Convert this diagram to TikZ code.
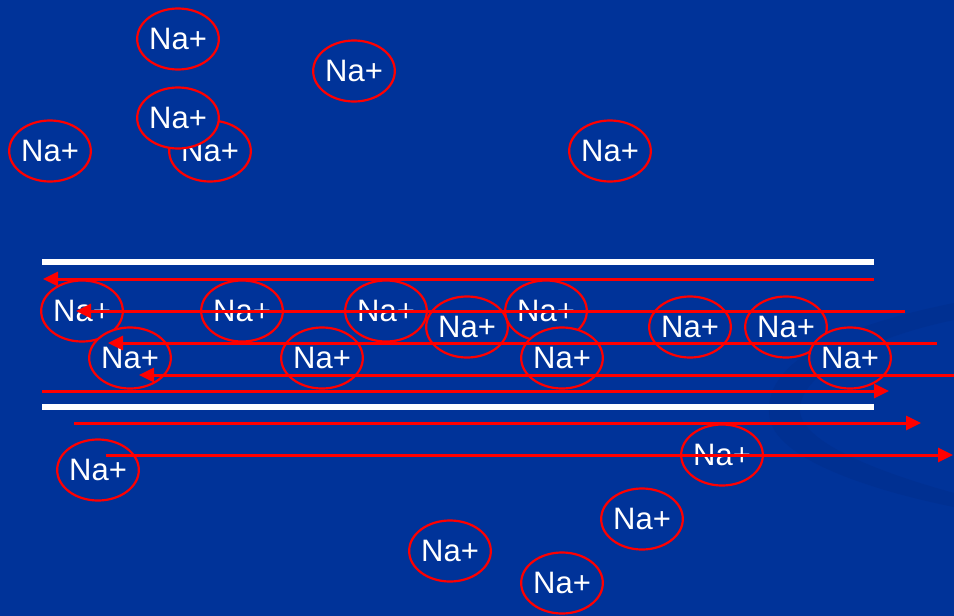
\documentclass[tikz,border=0pt]{standalone}
\usepackage{fontspec}
\setmainfont{Liberation Sans}
\usetikzlibrary{arrows.meta,shapes.geometric}
\definecolor{bg}{RGB}{0,51,153}
\definecolor{swoosh}{RGB}{0,48,146}
\definecolor{ionred}{RGB}{255,0,0}
\begin{document}
\begin{tikzpicture}[x=1pt,y=-1pt,
  ion/.style={ellipse, draw=ionred, line width=2.2pt, fill=bg, minimum width=78pt, minimum height=61pt, inner sep=0pt, text=white, font=\fontsize{31}{31}\selectfont},
  flow/.style={draw=ionred, line width=3pt, -{Triangle[length=15pt,width=14pt]}},
  wall/.style={draw=white, line width=6pt}]
\fill[bg] (0,0) rectangle (954,616);
\useasboundingbox (0,0) rectangle (954,616);
% faint background swoosh
\fill[swoosh] (954,303) .. controls (820,330) and (760,370) .. (770,420) .. controls (780,460) and (870,490) .. (954,507) -- (954,493) .. controls (870,470) and (800,440) .. (800,410) .. controls (800,370) and (880,335) .. (954,320) -- cycle;
% walls
\coordinate (wt1) at (42,262); \coordinate (wt2) at (874,262);
\coordinate (wb1) at (42,407); \coordinate (wb2) at (874,407);
\draw[wall] (wt1) -- (wt2);
\draw[wall] (wb1) -- (wb2);
% ions outside
\node[ion] (o1) at (178,39) {Na+};
\node[ion] (o2) at (354,71) {Na+};
\node[ion] (o4) at (210,151) {Na+};
\node[ion] (o3) at (178,118) {Na+};
\node[ion] (o5) at (50,151) {Na+};
\node[ion] (o6) at (610,151) {Na+};
% ions in the tube
\node[ion] (p1) at (82,311) {Na+};
\node[ion] (p2) at (130,358) {Na+};
\node[ion] (p3) at (242,311) {Na+};
\node[ion] (p4) at (322,358) {Na+};
\node[ion] (p5) at (386,311) {Na+};
\node[ion] (p6) at (467,327) {Na+};
\node[ion] (p7) at (546,311) {Na+};
\node[ion] (p8) at (562,358) {Na+};
\node[ion] (p9) at (690,327) {Na+};
\node[ion] (p10) at (786,327) {Na+};
\node[ion] (p11) at (850,358) {Na+};
% ions below
\node[ion] (b1) at (98,470) {Na+};
\node[ion] (b2) at (722,455) {Na+};
\node[ion] (b3) at (642,519) {Na+};
\node[ion] (b4) at (450,551) {Na+};
\node[ion] (b5) at (562,583) {Na+};
% flow lines
\coordinate (a1s) at (874,279); \coordinate (a1e) at (43,279);
\coordinate (a2s) at (905,311); \coordinate (a2e) at (76,311);
\coordinate (a3s) at (937,343); \coordinate (a3e) at (108,343);
\coordinate (a4s) at (954,375); \coordinate (a4e) at (139,375);
\coordinate (a5s) at (42,391);  \coordinate (a5e) at (889,391);
\coordinate (a6s) at (74,423);  \coordinate (a6e) at (921,423);
\coordinate (a7s) at (106,455); \coordinate (a7e) at (953,455);
\draw[flow] (a1s) -- (a1e);
\draw[flow] (a2s) -- (a2e);
\draw[flow] (a3s) -- (a3e);
\draw[flow] (a4s) -- (a4e);
\draw[flow] (a5s) -- (a5e);
\draw[flow] (a6s) -- (a6e);
\draw[flow] (a7s) -- (a7e);
\end{tikzpicture}
\end{document}
